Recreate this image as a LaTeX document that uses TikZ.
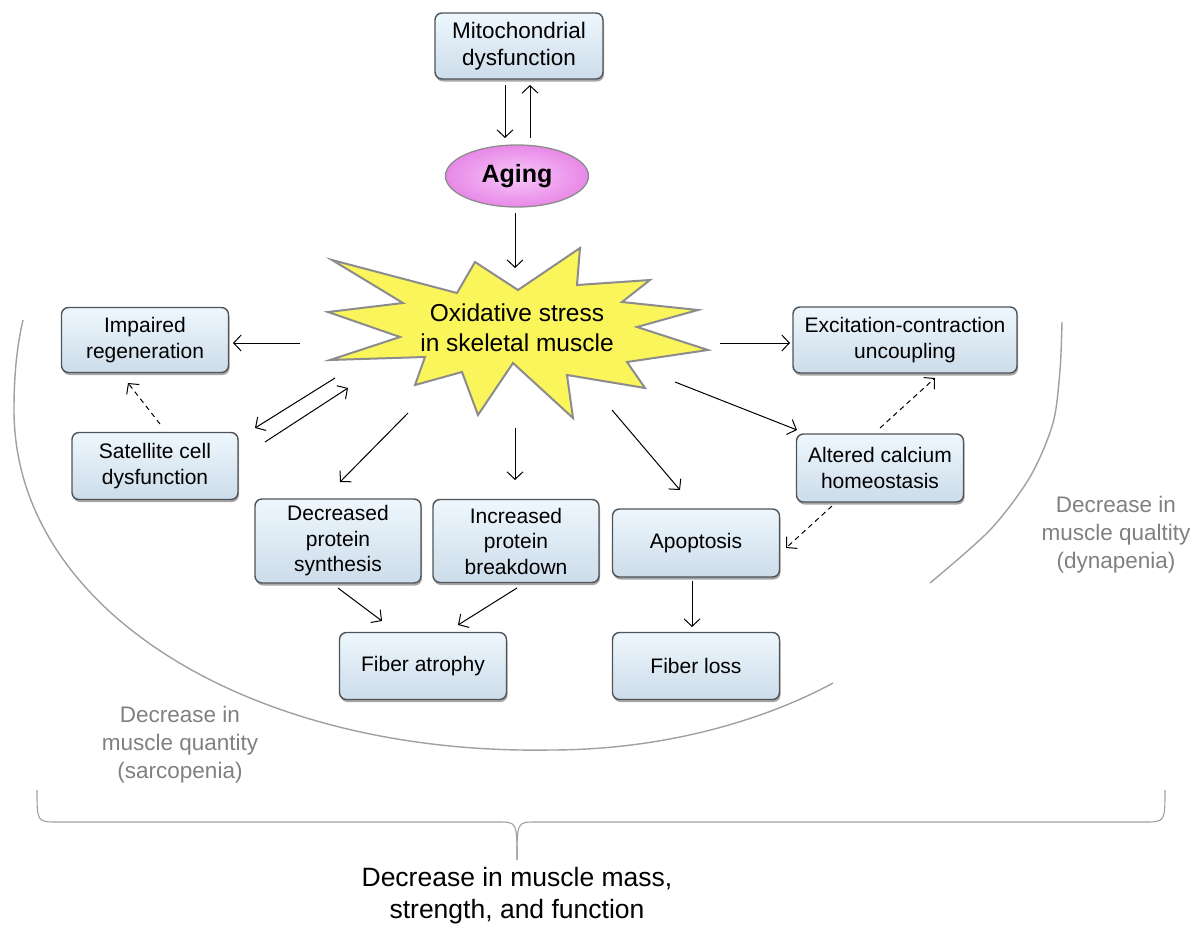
\documentclass[tikz,border=0pt]{standalone}
\usepackage{fontspec}
\setmainfont{Liberation Sans}
\usetikzlibrary{arrows.meta,shadows,calc,shapes.geometric}
\definecolor{boxtop}{RGB}{238,247,253}
\definecolor{boxmid}{RGB}{226,240,250}
\definecolor{boxbot}{RGB}{204,220,234}
\definecolor{boxline}{RGB}{80,84,88}
\definecolor{starfill}{RGB}{250,245,90}
\definecolor{starline}{RGB}{140,140,140}
\definecolor{pinkin}{RGB}{248,200,248}
\definecolor{pinkout}{RGB}{232,136,232}
\definecolor{labelgray}{RGB}{128,128,128}
\definecolor{arcgray}{RGB}{160,160,160}
\begin{document}
\begin{tikzpicture}[x=1pt,y=-1pt,
  box/.style={draw=boxline, line width=1.4pt, rounded corners=7pt,
    top color=boxtop, middle color=boxmid, bottom color=boxbot,
    drop shadow={shadow xshift=1pt, shadow yshift=-2.5pt, opacity=0.35, fill=black},
    align=center, inner sep=0pt, font=\fontsize{21}{25.5}\selectfont},
  arr/.style={line width=1pt, -{Straight Barb[length=7.5pt,width=16pt,line width=1pt]}},
  darr/.style={arr, dash pattern=on 5pt off 4pt},
  graylbl/.style={text=labelgray, align=center, font=\fontsize{22.5}{28}\selectfont},
  arcline/.style={draw=arcgray, line width=1.4pt}
]
\useasboundingbox (0,0) rectangle (1203,926);

% arcs
\draw[arcline] (23,320) .. controls (16,350) and (14,380) .. (14,410)
  .. controls (14,610) and (250,755) .. (550,750)
  .. controls (680,750) and (780,712) .. (833,683);
\draw[arcline] plot[smooth] coordinates {(1062,322) (1060,370) (1053,423) (1030,477) (990,530) (930,583)};

% brace
\draw[arcline, line width=1.1pt] (37,790) .. controls (37,822) .. (58,822) -- (498,822) .. controls (517,822) .. (517,860);
\draw[arcline, line width=1.1pt] (1165,790) .. controls (1165,822) .. (1144,822) -- (536,822) .. controls (517,822) .. (517,860);

% starburst
\draw[fill=starfill, draw=starline, line width=2pt, line join=miter]
  (332,260) -- (457,293) -- (475,262) -- (518,290) -- (580,248) -- (577,285)
  -- (650,280) -- (622,302) -- (698,310) -- (637,327) -- (708,350) -- (627,362)
  -- (645,388) -- (567,375) -- (573,418) -- (513,363) -- (478,415) -- (462,372)
  -- (415,385) -- (425,357) -- (330,360) -- (400,337) -- (328,312) -- (403,303) -- cycle;
\node[align=center, font=\fontsize{24.5}{30}\selectfont] (star) at (517,328) {Oxidative stress\\in skeletal muscle};

% nodes
\node[box, minimum width=168pt, minimum height=66pt, font=\fontsize{22.5}{27}\selectfont] (mito) at (519,46) {Mitochondrial\\dysfunction};
\node[ellipse, draw=starline, line width=1.3pt, inner color=pinkin, outer color=pinkout,
  minimum width=143pt, minimum height=62pt, inner sep=0pt,
  font=\bfseries\fontsize{25}{30}\selectfont] (aging) at (517,176) {Aging};
\node[box, minimum width=167pt, minimum height=65pt] (impaired) at (145,340) {Impaired\\regeneration};
\node[box, minimum width=224pt, minimum height=66pt] (excit) at (905,340) {Excitation-contraction\\uncoupling};
\node[box, minimum width=166pt, minimum height=67pt] (satellite) at (155,466) {Satellite cell\\dysfunction};
\node[box, minimum width=166pt, minimum height=84pt] (decr) at (338,541) {Decreased\\protein\\synthesis};
\node[box, minimum width=166pt, minimum height=83pt] (incr) at (516,541) {Increased\\protein\\breakdown};
\node[box, minimum width=167pt, minimum height=68pt] (apop) at (696,543) {Apoptosis};
\node[box, minimum width=167pt, minimum height=68pt] (calc) at (880,468) {Altered calcium\\homeostasis};
\node[box, minimum width=167pt, minimum height=67pt] (atrophy) at (423,666) {Fiber atrophy};
\node[box, minimum width=167pt, minimum height=67pt] (loss) at (696,666) {Fiber loss};

% labels
\node[graylbl] (quant) at (180,745) {Decrease in\\muscle quantity\\(sarcopenia)};
\node[graylbl] (qual) at (1116,535) {Decrease in\\muscle qualtity\\(dynapenia)};
\node[align=center, font=\fontsize{26.5}{32}\selectfont] (total) at (517,896) {Decrease in muscle mass,\\strength, and function};

% connector end points
\coordinate (m1) at (505,85);   \coordinate (a1) at (505,138);
\coordinate (a2) at (530,138);  \coordinate (m2) at (530,85);
\coordinate (a3) at (515,213);  \coordinate (s3) at (515,268);
\coordinate (s4) at (300,343);  \coordinate (i4) at (233,343);
\coordinate (s5) at (720,343);  \coordinate (e5) at (790,343);
\coordinate (s6) at (335,378);  \coordinate (t6) at (255,428);
\coordinate (t7) at (265,442);  \coordinate (s7) at (348,388);
\coordinate (t8) at (160,424);  \coordinate (i8) at (128,383);
\coordinate (s9) at (408,413);  \coordinate (d9) at (340,482);
\coordinate (s10) at (515,428); \coordinate (n10) at (515,480);
\coordinate (s11) at (612,410); \coordinate (p11) at (680,490);
\coordinate (s12) at (675,382); \coordinate (c12) at (797,430);
\coordinate (c13) at (880,428); \coordinate (e13) at (935,378);
\coordinate (c14) at (832,506); \coordinate (p14) at (786,548);
\coordinate (d15) at (338,588); \coordinate (f15) at (382,621);
\coordinate (n16) at (517,588); \coordinate (f16) at (458,625);
\coordinate (p17) at (692,581); \coordinate (l17) at (692,627);

\draw[arr] (m1) -- (a1);
\draw[arr] (a2) -- (m2);
\draw[arr] (a3) -- (s3);
\draw[arr] (s4) -- (i4);
\draw[arr] (s5) -- (e5);
\draw[arr] (s6) -- (t6);
\draw[arr] (t7) -- (s7);
\draw[darr] (t8) -- (i8);
\draw[arr] (s9) -- (d9);
\draw[arr] (s10) -- (n10);
\draw[arr] (s11) -- (p11);
\draw[arr] (s12) -- (c12);
\draw[darr] (c13) -- (e13);
\draw[darr] (c14) -- (p14);
\draw[arr] (d15) -- (f15);
\draw[arr] (n16) -- (f16);
\draw[arr] (p17) -- (l17);
\end{tikzpicture}
\end{document}
